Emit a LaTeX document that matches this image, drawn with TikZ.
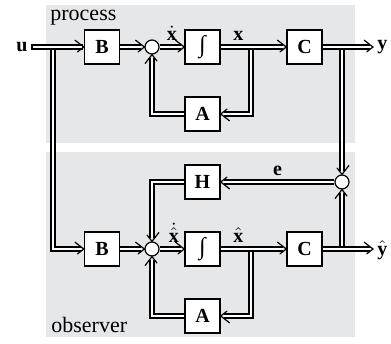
\documentclass[tikz,border=0pt]{standalone}
\usepackage{fontspec}
\setmainfont{Liberation Serif}
\usetikzlibrary{decorations.markings}
\definecolor{PanelGray}{HTML}{E6E7E8}
\tikzset{
  block/.style={draw=black,line width=0.7pt,fill=white,minimum width=17.5pt,minimum height=17pt,inner sep=0pt,font=\bfseries},
  sumpt/.style={circle,draw=black,line width=0.6pt,fill=white,minimum size=7pt,inner sep=0pt},
  sig/.style={double=white,double distance=1.4pt,line width=0.6pt,shorten >=1.6pt,
    postaction={decorate,decoration={markings,mark=at position 1 with
      {\draw[black,line width=0.6pt,line cap=round,line join=miter] (-4.4pt,3.4pt) -- (0,0) -- (-4.4pt,-3.4pt);}}}},
  lbl/.style={font=\bfseries,inner sep=2pt},
  panel/.style={font=\fontsize{11}{13}\selectfont,inner sep=0pt}
}

\begin{document}
\begin{tikzpicture}[x=0.5pt,y=-0.5pt]
  \useasboundingbox (0,0) rectangle (391,343);
  % Panels
  \fill[PanelGray] (46,5) rectangle (355,143);
  \fill[PanelGray] (46,152) rectangle (355,337);
  \node[panel,anchor=base west] (proc) at (50,20) {process};
  \node[panel,anchor=base west] (obs) at (51,332) {observer};

  % Process blocks
  \node[lbl,anchor=east,inner sep=3pt] (u) at (34,47) {u};
  \node[block] (Bp) at (102,47) {B};
  \node[sumpt] (sp) at (152,47) {};
  \node[block,font=\bfseries\large] (ip) at (202.5,47) {∫};
  \node[block] (Cp) at (304.5,47) {C};
  \node[block] (Ap) at (202.5,114) {A};
  \node[lbl,anchor=west] (y) at (373,47) {y};

  % Observer blocks
  \node[sumpt] (ec) at (342,182) {};
  \node[block] (Ho) at (202.5,182) {H};
  \node[block] (Bo) at (102,249) {B};
  \node[sumpt] (so) at (152,249) {};
  \node[block,font=\bfseries\large] (io) at (202.5,249) {∫};
  \node[block] (Co) at (304.5,249) {C};
  \node[block] (Ao) at (202.5,316) {A};
  \node[lbl,anchor=west] (yh) at (373,250) {$\hat{\textbf{y}}$};

  % Branch points
  \coordinate (ub) at (53,47);
  \coordinate (xb) at (251,47);
  \coordinate (yb) at (342,47);
  \coordinate (xhb) at (251,249);
  \coordinate (yhb) at (342,249);

  % Branches first, main lines over them
  \draw[sig] (ub) |- (Bo);
  \draw[sig,line cap=rect] (u) -- (Bp);
  \draw[sig] (Bp) -- (sp);
  \draw[sig] (sp) -- node[lbl,above=1pt] {$\dot{\textbf{x}}$} (ip);
  \draw[sig] (xb) |- (Ap);
  \draw[sig] (ip) -- node[lbl,above=1pt,pos=0.27] {x} (Cp);
  \draw[sig] (Ap) -| (sp);
  \draw[sig] (yb) -- (ec);
  \draw[sig] (Cp) -- (Cp -| y.west);

  \draw[sig] (ec) -- node[lbl,above=1pt] {e} (Ho);
  \draw[sig] (Ho) -| (so);
  \draw[sig] (Bo) -- (so);
  \draw[sig] (so) -- node[lbl,above=1pt,xshift=1pt] {$\dot{\hat{\textbf{x}}}$} (io);
  \draw[sig] (xhb) |- (Ao);
  \draw[sig] (io) -- node[lbl,above=1pt,pos=0.27] {$\hat{\textbf{x}}$} (Co);
  \draw[sig] (Ao) -| (so);
  \draw[sig] (yhb) -- (ec);
  \draw[sig] (Co) -- (Co -| yh.west);
\end{tikzpicture}
\end{document}
